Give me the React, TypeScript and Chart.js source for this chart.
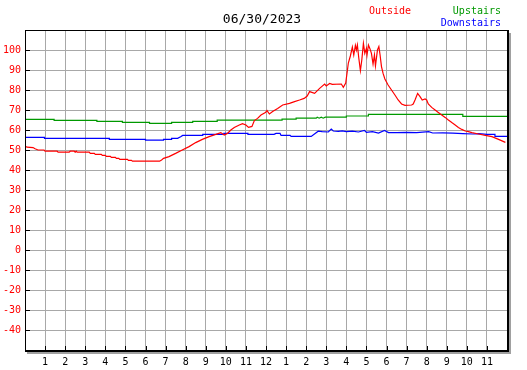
import { useEffect, useRef } from 'react';
import { Chart, registerables } from 'chart.js';

Chart.register(...registerables);

const chartTitle = '06/30/2023';
const seriesNames = ['Outside', 'Upstairs', 'Downstairs'];
const seriesColors = ['#ff0000', '#009900', '#0000ff'];

// hour-of-day tick labels (0..24)
const hourTickLabels = ['', '1', '2', '3', '4', '5', '6', '7', '8', '9', '10', '11', '12',
  '1', '2', '3', '4', '5', '6', '7', '8', '9', '10', '11', ''];
const yMin = -50;
const yMax = 110;
const yStep = 10;

// [hour, temperature °F]
const outside: [number, number][] = [
  [0, 52], [0.1, 51.4], [0.4, 51.2], [0.5, 50.6], [0.65, 50.0], [0.95, 50.0], [1.0, 49.4], [1.6, 49.4],
  [1.65, 48.9], [2.2, 48.9], [2.25, 49.4], [2.45, 49.4], [2.5, 48.9], [2.55, 49.4], [2.6, 48.9], [3.2, 48.9],
  [3.25, 48.3], [3.45, 48.3], [3.5, 47.8], [3.8, 47.8], [3.85, 47.3], [4.0, 47.3], [4.05, 46.8], [4.25, 46.8],
  [4.3, 46.3], [4.5, 46.3], [4.55, 45.8], [4.67, 45.8], [4.72, 45.3], [5.1, 45.3], [5.15, 44.8], [5.3, 44.8],
  [5.35, 44.4], [6.7, 44.4], [6.8, 45.0], [6.9, 45.8], [7.17, 46.7], [7.5, 48.3], [7.83, 50.0], [8.17, 51.7],
  [8.5, 53.7], [8.83, 55.3], [9.17, 56.7], [9.5, 57.8], [9.75, 58.7], [9.92, 57.5], [10.08, 58.3], [10.25, 60.0],
  [10.42, 61.3], [10.67, 62.5], [10.83, 63.2], [11.0, 62.5], [11.13, 61.3], [11.3, 61.8], [11.42, 64.7],
  [11.58, 65.8], [11.75, 67.5], [11.97, 68.7], [12.05, 69.7], [12.17, 68.0], [12.33, 69.2], [12.58, 70.8],
  [12.83, 72.5], [13.17, 73.3], [13.42, 74.2], [13.67, 75.0], [13.9, 75.8], [14.05, 77.0], [14.17, 79.2],
  [14.42, 78.3], [14.67, 80.8], [14.92, 83.0], [15.0, 82.0], [15.17, 83.3], [15.3, 82.8], [15.75, 83.0],
  [15.85, 81.3], [15.97, 83.5], [16.1, 93.5], [16.2, 97], [16.3, 101.5], [16.37, 97.5], [16.45, 102.3],
  [16.5, 100], [16.55, 102.5], [16.62, 96], [16.7, 89.7], [16.77, 95], [16.85, 103.3], [16.92, 98.3],
  [17.0, 100.8], [17.03, 97.5], [17.1, 102.5], [17.17, 100.8], [17.25, 98.3], [17.33, 93.0], [17.4, 97.5],
  [17.45, 92], [17.55, 100], [17.62, 101.7], [17.68, 97.5], [17.75, 91.7], [17.83, 88.3], [17.92, 85.5],
  [18.08, 82.5], [18.25, 80], [18.42, 77.5], [18.58, 75], [18.75, 73], [18.92, 72.3], [19.25, 72.5],
  [19.33, 73], [19.42, 75], [19.55, 78.3], [19.67, 76.7], [19.78, 75], [19.92, 75.5], [20.0, 75],
  [20.08, 73], [20.25, 71.3], [20.42, 70], [20.58, 68.8], [20.75, 67.5], [20.92, 66.3], [21.08, 65],
  [21.25, 63.7], [21.42, 62.5], [21.58, 61.3], [21.75, 60.3], [21.92, 59.5], [22.08, 59.2], [22.25, 58.7],
  [22.58, 58], [22.92, 57.3], [23.25, 56.7], [23.58, 55.3], [23.92, 53.8],
];

const upstairs: [number, number][] = [
  [0, 65.3], [1.45, 65.3], [1.45, 64.8], [3.58, 64.8], [3.58, 64.3], [4.85, 64.3], [4.85, 63.8],
  [6.2, 63.8], [6.2, 63.3], [7.3, 63.3], [7.3, 63.8], [8.35, 63.8], [8.35, 64.3], [9.57, 64.3],
  [9.57, 64.9], [12.8, 64.9], [12.8, 65.4], [13.5, 65.4], [13.5, 65.9], [14.5, 65.9], [14.55, 66.4],
  [14.65, 65.9], [14.75, 66.4], [14.85, 65.9], [14.95, 66.4], [16.0, 66.4], [16.0, 67.0], [17.1, 67.0],
  [17.1, 67.8], [21.8, 67.8], [21.8, 66.8], [24, 66.8],
];

const downstairs: [number, number][] = [
  [0, 56.3], [0.97, 56.3], [0.97, 55.8], [4.2, 55.8], [4.2, 55.3], [6.0, 55.3], [6.0, 54.9], [6.9, 54.9],
  [6.9, 55.3], [7.3, 55.3], [7.3, 55.8], [7.6, 55.8], [7.75, 56.6], [7.85, 57.3], [8.85, 57.3], [8.85, 57.8],
  [9.9, 57.8], [9.9, 58.3], [11.1, 58.3], [11.1, 57.8], [12.4, 57.8], [12.5, 58.3], [12.7, 58.3],
  [12.75, 57.3], [13.2, 57.3], [13.25, 56.8], [14.25, 56.8], [14.6, 59.4], [14.8, 59.2], [15.1, 59.0],
  [15.25, 60.5], [15.35, 59.5], [15.6, 59.3], [15.8, 59.6], [16.0, 59.2], [16.3, 59.4], [16.6, 59.0],
  [16.9, 59.8], [17.0, 58.8], [17.3, 59.2], [17.6, 58.5], [17.9, 59.8], [18.1, 58.7], [18.5, 58.7],
  [19.0, 58.8], [19.5, 58.7], [20.1, 59.2], [20.3, 58.5], [20.8, 58.6], [21.3, 58.4], [21.8, 58.2],
  [22.3, 58.0], [22.6, 58.2], [23.0, 57.8], [23.4, 57.8], [23.4, 56.8], [24, 56.8],
];

const FONT = '"DejaVu Sans Mono", monospace';

const framePlugin = {
  id: 'frame',
  afterDatasetsDraw(chart: any) {
    const { ctx, chartArea: a, scales } = chart;
    ctx.save();
    // inner tick marks
    ctx.strokeStyle = '#000';
    ctx.lineWidth = 1;
    ctx.beginPath();
    scales.y.ticks.forEach((t: any) => {
      if (t.value <= yMin || t.value >= yMax) return;
      const py = Math.round(scales.y.getPixelForValue(t.value)) + 0.5;
      ctx.moveTo(a.left, py);
      ctx.lineTo(a.left + 5, py);
    });
    scales.x.ticks.forEach((t: any) => {
      if (!hourTickLabels[t.value]) return;
      const px = Math.round(scales.x.getPixelForValue(t.value)) + 0.5;
      ctx.moveTo(px, a.bottom);
      ctx.lineTo(px, a.bottom - 4);
    });
    ctx.stroke();
    // shadow
    ctx.fillStyle = '#a0a0a0';
    ctx.fillRect(a.right + 2, a.top + 3, 2, a.bottom - a.top);
    ctx.fillRect(a.left + 2, a.bottom + 2, a.right - a.left + 2, 2);
    // border
    ctx.fillStyle = '#000';
    ctx.fillRect(a.left, a.top, a.right - a.left + 2, 1);
    ctx.fillRect(a.left, a.top, 1, a.bottom - a.top + 2);
    ctx.fillRect(a.right, a.top, 2, a.bottom - a.top + 2);
    ctx.fillRect(a.left, a.bottom, a.right - a.left + 2, 2);
    ctx.restore();
  },
  afterDraw(chart: any) {
    const { ctx } = chart;
    ctx.save();
    ctx.textBaseline = 'middle';
    ctx.fillStyle = '#000';
    ctx.font = `13px ${FONT}`;
    ctx.textAlign = 'center';
    ctx.fillText(chartTitle, 262, 20);
    ctx.font = `10px ${FONT}`;
    const ds = chart.data.datasets;
    ctx.textAlign = 'left';
    ctx.fillStyle = ds[0].borderColor;
    ctx.fillText(ds[0].label, 369, 11);
    ctx.textAlign = 'right';
    ctx.fillStyle = ds[1].borderColor;
    ctx.fillText(ds[1].label, 501, 11);
    ctx.fillStyle = ds[2].borderColor;
    ctx.fillText(ds[2].label, 501, 23);
    ctx.restore();
  },
};

export default function App() {
  const ref = useRef<HTMLCanvasElement>(null);
  useEffect(() => {
    document.body.style.margin = '0';
    const toPts = (arr: [number, number][]) => arr.map(([x, y]) => ({ x, y }));
    const series = [outside, upstairs, downstairs];
    const chart = new Chart(ref.current!, {
      type: 'line',
      data: {
        datasets: series.map((s, i) => ({
          label: seriesNames[i],
          data: toPts(s),
          borderColor: seriesColors[i],
          backgroundColor: seriesColors[i],
          borderWidth: 1.2,
          pointRadius: 0,
          tension: 0,
          fill: false,
        })),
      },
      options: {
        animation: false,
        responsive: false,
        layout: { padding: { top: 30, right: 20, left: 0, bottom: 0 } },
        plugins: { legend: { display: false }, title: { display: false }, tooltip: { enabled: false } },
        scales: {
          x: {
            type: 'linear',
            min: 0,
            max: 24,
            afterFit: (s: any) => { s.height = 20; },
            ticks: {
              stepSize: 1,
              autoSkip: false,
              maxRotation: 0,
              padding: 6,
              color: '#000',
              font: { family: FONT, size: 10 },
              callback: (v: any) => hourTickLabels[Math.round(Number(v))] ?? '',
            },
            grid: { color: '#a8a8a8', lineWidth: 1, drawTicks: false },
            border: { display: false },
          },
          y: {
            type: 'linear',
            min: yMin,
            max: yMax,
            afterFit: (s: any) => { s.width = 25; },
            ticks: {
              stepSize: yStep,
              autoSkip: false,
              padding: 4,
              color: '#ff0000',
              font: { family: FONT, size: 10 },
              callback: (v: any) => (Number(v) <= yMin || Number(v) >= yMax ? '' : String(v)),
            },
            grid: { color: '#a8a8a8', lineWidth: 1, drawTicks: false },
            border: { display: false },
          },
        },
      },
      plugins: [framePlugin],
    });
    return () => chart.destroy();
  }, []);
  return (
    <div style={{ width: 527, height: 370, background: '#fff' }}>
      <canvas ref={ref} width={527} height={370} style={{ display: 'block' }} />
    </div>
  );
}
